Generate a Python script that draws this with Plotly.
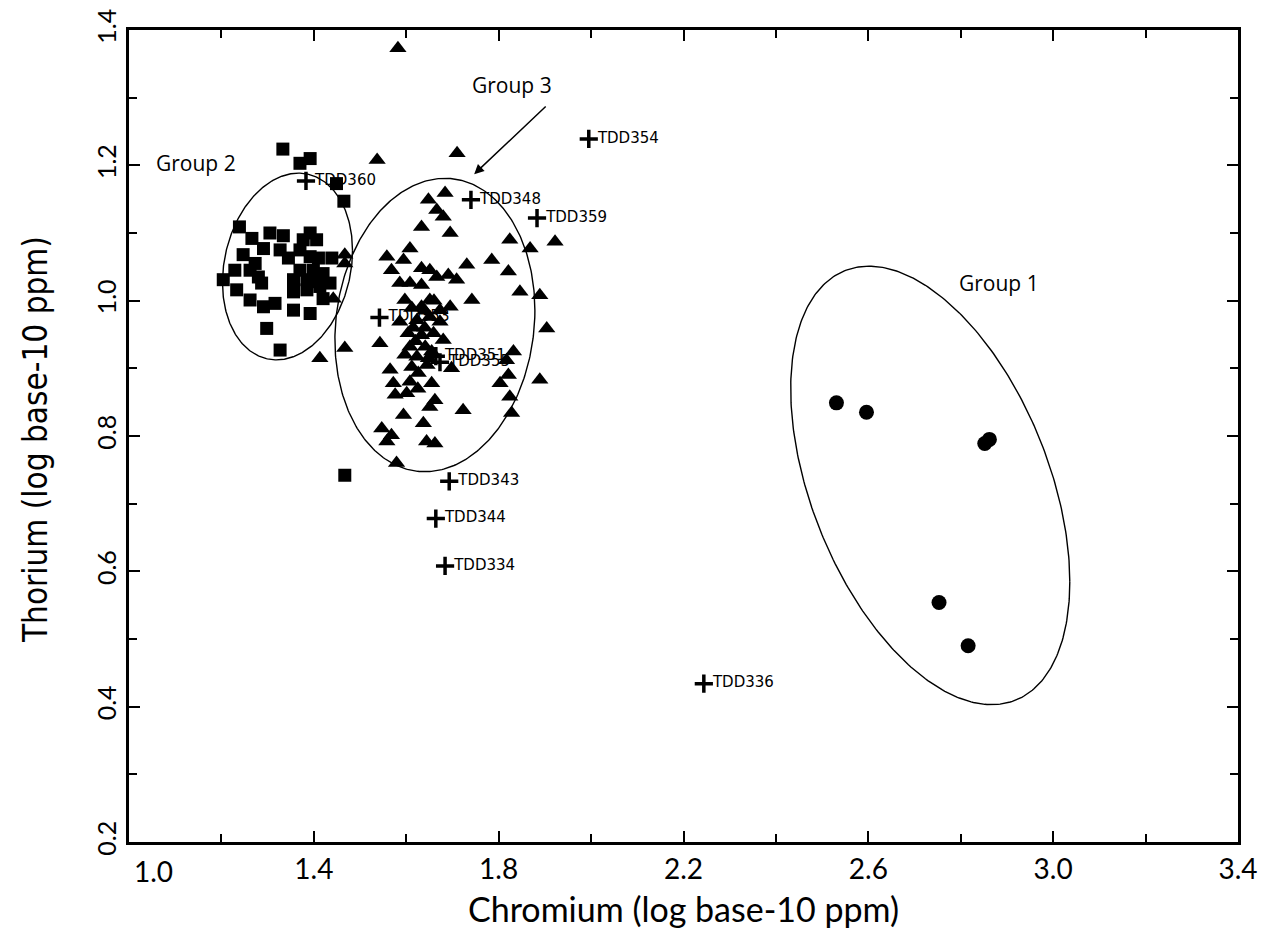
import numpy as np
import plotly.graph_objects as go

# Group 2 (squares)
sq_cr = [1.333, 1.370, 1.392, 1.449, 1.465, 1.239, 1.266, 1.305, 1.334, 1.392, 1.377, 1.406,
         1.291, 1.327, 1.345, 1.247, 1.273, 1.370, 1.392, 1.410, 1.439, 1.229, 1.262, 1.280,
         1.370, 1.399, 1.420, 1.356, 1.385, 1.410, 1.204, 1.233, 1.287, 1.356, 1.385, 1.413,
         1.435, 1.262, 1.291, 1.316, 1.356, 1.392, 1.420, 1.298, 1.327, 1.467]
sq_th = [1.224, 1.203, 1.210, 1.173, 1.147, 1.109, 1.092, 1.100, 1.096, 1.100, 1.090, 1.090,
         1.077, 1.075, 1.063, 1.068, 1.055, 1.075, 1.065, 1.063, 1.063, 1.045, 1.045, 1.035,
         1.045, 1.045, 1.040, 1.031, 1.031, 1.028, 1.031, 1.016, 1.026, 1.013, 1.016, 1.021,
         1.026, 1.001, 0.991, 0.996, 0.986, 0.981, 1.003, 0.959, 0.927, 0.742]

# Group 3 (triangles)
tri_cr = [1.684, 1.648, 1.666, 1.680, 1.633, 1.695, 1.824, 1.868, 1.922, 1.608,
          1.558, 1.594, 1.785, 1.731, 1.821, 1.568, 1.633, 1.651, 1.691, 1.709,
          1.666, 1.586, 1.608, 1.633, 1.846, 1.889, 1.742, 1.695, 1.651, 1.597,
          1.612, 1.633, 1.673, 1.904, 1.586, 1.623, 1.651, 1.673, 1.543, 1.604,
          1.633, 1.659, 1.680, 1.608, 1.641, 1.597, 1.623, 1.648, 1.832, 1.817,
          1.698, 1.565, 1.612, 1.626, 1.821, 1.803, 1.889, 1.572, 1.608, 1.655,
          1.576, 1.601, 1.824, 1.828, 1.723, 1.662, 1.651, 1.594, 1.637, 1.547,
          1.568, 1.558, 1.644, 1.662, 1.579, 1.467, 1.467, 1.442, 1.467, 1.413,
          1.582, 1.537, 1.710,
          1.640, 1.655, 1.620, 1.645, 1.625, 1.640, 1.660, 1.615]
tri_th = [1.159, 1.149, 1.134, 1.124, 1.109, 1.100, 1.090, 1.077, 1.087, 1.077,
          1.065, 1.060, 1.060, 1.053, 1.043, 1.045, 1.048, 1.045, 1.038, 1.031,
          1.035, 1.026, 1.026, 1.023, 1.013, 1.008, 1.001, 0.991, 1.001, 1.001,
          0.989, 0.991, 0.986, 0.959, 0.969, 0.971, 0.976, 0.969, 0.937, 0.952,
          0.949, 0.952, 0.942, 0.932, 0.932, 0.920, 0.917, 0.915, 0.925, 0.912,
          0.900, 0.898, 0.902, 0.893, 0.890, 0.878, 0.883, 0.878, 0.880, 0.878,
          0.861, 0.863, 0.858, 0.834, 0.838, 0.853, 0.843, 0.831, 0.819, 0.811,
          0.801, 0.792, 0.792, 0.789, 0.760, 1.068, 1.055, 1.003, 0.930, 0.915,
          1.373, 1.208, 1.218,
          0.960, 0.925, 0.940, 0.905, 0.870, 0.985, 1.000, 0.960]

# Group 1 (circles)
circ_cr = [2.531, 2.596, 2.852, 2.862, 2.753, 2.816]
circ_th = [0.849, 0.835, 0.789, 0.795, 0.554, 0.490]

# unassigned samples (crosses)
tdd_names = ["TDD354", "TDD360", "TDD348", "TDD359", "TDD353", "TDD351", "TDD355",
             "TDD343", "TDD344", "TDD334", "TDD336"]
tdd_cr = [1.995, 1.383, 1.740, 1.883, 1.542, 1.664, 1.673, 1.693, 1.664, 1.684, 2.244]
tdd_th = [1.239, 1.177, 1.149, 1.122, 0.975, 0.918, 0.909, 0.733, 0.678, 0.608, 0.434]

# group ellipses: centre, half width, half height, correlation
ell_names = ["Group 1", "Group 2", "Group 3"]
ell_cx = [2.734, 1.343, 1.662]
ell_cy = [0.727, 1.0505, 0.964]
ell_ax = [0.302, 0.1407, 0.2164]
ell_ay = [0.324, 0.138, 0.2168]
ell_rho = [-0.44, 0.17, 0.10]

x_ticks = [1.0, 1.4, 1.8, 2.2, 2.6, 3.0, 3.4]
y_ticks = [0.2, 0.4, 0.6, 0.8, 1.0, 1.2, 1.4]

assert len(sq_cr) == len(sq_th) and len(tri_cr) == len(tri_th)

fig = go.Figure()

t = np.linspace(0, 2 * np.pi, 361)
for i in range(len(ell_names)):
    ex = ell_cx[i] + ell_ax[i] * np.cos(t)
    ey = ell_cy[i] + ell_ay[i] * (ell_rho[i] * np.cos(t) + np.sqrt(1 - ell_rho[i] ** 2) * np.sin(t))
    fig.add_trace(go.Scatter(x=ex, y=ey, mode="lines", line=dict(color="black", width=1.4),
                             hoverinfo="skip"))

fig.add_trace(go.Scatter(x=tdd_cr, y=tdd_th, mode="markers+text", text=tdd_names,
                         textposition="middle right",
                         textfont=dict(family="DejaVu Sans", size=15, color="black"),
                         marker=dict(symbol="cross-thin", size=13, color="black",
                                     line=dict(width=3.5, color="black"))))
fig.add_trace(go.Scatter(x=sq_cr, y=sq_th, mode="markers",
                         marker=dict(symbol="square", size=13, color="black")))
fig.add_trace(go.Scatter(x=tri_cr, y=tri_th, mode="markers",
                         marker=dict(symbol="triangle-up", size=15, color="black")))
fig.add_trace(go.Scatter(x=circ_cr, y=circ_th, mode="markers",
                         marker=dict(symbol="circle", size=15, color="black")))

gfont = dict(family="Open Sans", size=21, color="black")
fig.add_annotation(x=2.883, y=1.026, text="Group 1", showarrow=False, font=gfont)
fig.add_annotation(x=1.145, y=1.203, text="Group 2", showarrow=False, font=gfont)
fig.add_annotation(x=1.829, y=1.319, text="Group 3", showarrow=False, font=gfont)
fig.add_annotation(x=1.747, y=1.187, ax=73, ay=-69, text="", showarrow=True,
                   arrowhead=2, arrowsize=1.3, arrowwidth=1.5, arrowcolor="black")

tick_font = dict(family="Lato", size=28, color="black")
# first x label sits a little right of its tick
fig.add_annotation(x=1.0, y=0, yref="paper", yanchor="middle", xshift=24, yshift=-29,
                   text="1.0", showarrow=False, font=tick_font)
# axis titles
fig.add_annotation(x=0.5, y=0, xref="paper", yref="paper", yanchor="middle", yshift=-66,
                   text="Chromium (log base-10 ppm)", showarrow=False,
                   font=dict(family="Lato", size=34, color="black"))
fig.add_annotation(x=0, y=0.495, xref="paper", yref="paper", xanchor="center", xshift=-94,
                   textangle=-90, text="Thorium (log base-10 ppm)", showarrow=False,
                   font=dict(family="Liberation Sans Narrow, DejaVu Sans Condensed, Open Sans",
                             size=33, color="black"))

axis_common = dict(showline=True, linecolor="black", linewidth=3, mirror="ticks",
                   ticks="inside", ticklen=11, tickwidth=2, tickcolor="black",
                   showgrid=False, zeroline=False, automargin=False)

fig.update_xaxes(range=[1.0, 3.4], tickvals=x_ticks,
                 ticktext=[""] + ["%.1f" % v for v in x_ticks[1:]],
                 tickfont=tick_font,
                 minor=dict(dtick=0.2, ticks="inside", ticklen=8, tickwidth=2,
                            tickcolor="black", showgrid=False),
                 **axis_common)
fig.update_yaxes(range=[0.2, 1.4], tickvals=y_ticks,
                 ticktext=["%.1f" % v for v in y_ticks], tickangle=-90,
                 tickfont=dict(family="Lato", size=25, color="black"),
                 minor=dict(dtick=0.1, ticks="inside", ticklen=8, tickwidth=2,
                            tickcolor="black", showgrid=False),
                 **axis_common)

fig.update_layout(width=1272, height=930, showlegend=False,
                  margin=dict(l=129, r=34, t=30, b=88),
                  plot_bgcolor="white", paper_bgcolor="white")

# drop the default page margin so the figure fills the window
fig.write_html("out.html", config={"displayModeBar": False},
               post_script="document.body.style.margin='0';document.body.style.overflow='hidden';")
